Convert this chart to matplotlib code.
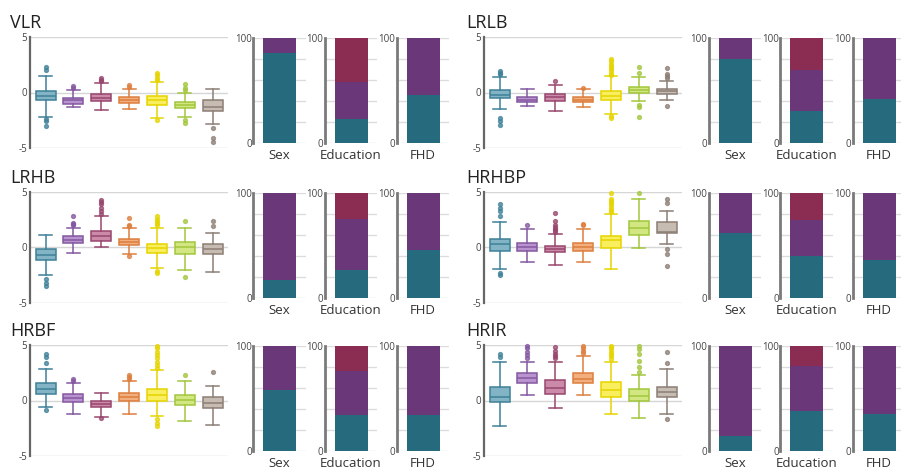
import matplotlib

matplotlib.use("Agg")
import matplotlib.pyplot as plt

plt.rcParams.update({"font.family": ["Open Sans", "DejaVu Sans"]})

W, H = 901, 471

PANELS = ["VLR", "LRLB", "LRHB", "HRHBP", "HRBF", "HRIR"]
GROUPS = ["Sex", "Education", "FHD"]

# box statistics, 7 boxes per panel
MEDIANS = {
    "VLR":   [-0.36, -0.72, -0.50, -0.65, -0.72, -1.10, -1.27],
    "LRLB":  [-0.20, -0.65, -0.45, -0.65, -0.30, 0.24, 0.15],
    "LRHB":  [-0.66, 0.72, 1.00, 0.54, -0.06, 0.00, -0.15],
    "HRHBP": [0.36, 0.06, -0.15, 0.03, 0.66, 1.80, 1.44],
    "HRBF":  [1.04, 0.27, -0.30, 0.36, 0.50, 0.06, -0.24],
    "HRIR":  [0.36, 2.00, 1.13, 1.93, 0.95, 0.45, 0.74],
}
Q1 = {
    "VLR":   [-0.72, -1.00, -0.80, -0.95, -1.15, -1.40, -1.70],
    "LRLB":  [-0.53, -0.90, -0.77, -0.90, -0.65, -0.06, -0.12],
    "LRHB":  [-1.10, 0.40, 0.60, 0.24, -0.50, -0.63, -0.63],
    "HRHBP": [-0.36, -0.30, -0.45, -0.33, -0.06, 1.14, 1.35],
    "HRBF":  [0.62, -0.10, -0.60, -0.03, 0.00, -0.42, -0.65],
    "HRIR":  [-0.15, 1.54, 0.60, 1.54, 0.36, 0.00, 0.30],
}
Q3 = {
    "VLR":   [0.18, -0.50, -0.18, -0.45, -0.36, -0.85, -0.72],
    "LRLB":  [0.24, -0.42, -0.15, -0.42, 0.18, 0.53, 0.36],
    "LRHB":  [-0.18, 1.00, 1.50, 0.80, 0.36, 0.54, 0.30],
    "HRHBP": [0.78, 0.42, 0.18, 0.42, 1.08, 2.40, 2.34],
    "HRBF":  [1.54, 0.60, 0.00, 0.65, 1.00, 0.47, 0.30],
    "HRIR":  [1.25, 2.52, 1.84, 2.52, 1.63, 1.04, 1.25],
}
WHISLO = {
    "VLR":   [-2.20, -1.30, -1.60, -1.45, -2.30, -2.20, -2.80],
    "LRLB":  [-1.48, -1.25, -1.63, -1.30, -1.90, -0.80, -0.65],
    "LRHB":  [-2.50, -0.50, 0.03, -0.63, -1.86, -2.04, -2.20],
    "HRHBP": [-1.90, -1.29, -1.56, -1.35, -1.95, -0.06, 0.36],
    "HRBF":  [-0.60, -1.20, -1.50, -1.20, -1.42, -1.87, -2.17],
    "HRIR":  [-2.30, 0.50, -0.65, 0.50, -1.25, -1.54, -1.25],
}
WHISHI = {
    "VLR":   [1.50, 0.25, 0.85, 0.33, 0.93, -0.06, 0.30],
    "LRLB":  [1.37, 0.33, 0.68, 0.30, 1.48, 1.37, 1.00],
    "LRHB":  [1.14, 1.80, 2.80, 1.75, 1.80, 1.80, 1.30],
    "HRHBP": [2.30, 1.68, 1.26, 1.65, 3.00, 4.34, 3.30],
    "HRBF":  [2.85, 1.57, 0.70, 1.72, 2.73, 1.75, 1.30],
    "HRIR":  [3.50, 3.50, 3.50, 4.00, 3.50, 2.30, 2.80],
}
FLIERS = {
    "VLR": [[2.0, 2.3, -2.4, -2.6, -3.05], [0.45, 0.6], [1.05, 1.15, 1.3],
            [0.5, 0.65], [1.1, 1.3, 1.55, 1.8, -2.45],
            [0.2, 0.45, 0.8, -2.45, -2.75], [-3.2, -4.1, -4.5]],
    "LRLB": [[1.65, 1.8, 1.95, -2.3, -2.6, -2.9], [], [1.0], [0.4],
             [1.6, 1.8, 2.0, 2.2, 2.4, 2.6, 2.8, 3.0, -2.1, -2.3],
             [1.8, 2.3, -1.1, -1.3, -2.2], [1.3, 1.5, 1.7, 2.2, -1.2]],
    "LRHB": [[-2.8, -3.2, -3.5], [2.0, 2.1, 2.2, 2.8],
             [3.0, 3.3, 3.6, 3.9, 4.1, 4.3], [1.9, 2.0, 2.7, -0.8],
             [2.0, 2.2, 2.4, 2.6, 2.8, -2.1, -2.3], [2.4, -2.7], [1.95, 2.35]],
    "HRHBP": [[2.8, 3.3, 3.6, 3.9, -2.3, -2.5], [2.0],
              [1.4, 1.55, 1.7, 1.85, 2.0, 2.4, 3.1], [2.0, 2.1],
              [3.2, 3.4, 3.6, 3.8, 4.0, 4.2, 4.4, 4.9], [4.9],
              [4.0, 4.4, -0.1, -0.6, -1.7]],
    "HRBF": [[3.4, 3.9, 4.2, -0.9], [1.8, 1.9], [-1.6], [1.9, 2.1, 2.3],
             [2.9, 3.2, 3.5, 3.8, 4.1, 4.4, 4.7, 4.95, -1.7, -2.0, -2.3],
             [2.3], [2.6]],
    "HRIR": [[3.9, 4.2], [3.8, 4.1, 4.4, 4.7, 4.95], [3.8, 4.0, 4.2, 4.5, 4.8],
             [4.3, 4.5, 4.7, 4.9], [3.7, 4.0, 4.2, 4.4, 4.6, 4.8, 4.95],
             [2.6, 3.0, 3.6, 4.2, 4.6, 4.95], [3.4, 4.4, -1.7]],
}

# stacked percentages per group: [bottom, middle, top]
STACKS = {
    "VLR":   {"Sex": [86, 14], "Education": [23, 35, 42], "FHD": [46, 54]},
    "LRLB":  {"Sex": [80, 20], "Education": [30, 40, 30], "FHD": [42, 58]},
    "LRHB":  {"Sex": [17, 83], "Education": [27, 48, 25], "FHD": [46, 54]},
    "HRHBP": {"Sex": [62, 38], "Education": [40, 34, 26], "FHD": [36, 64]},
    "HRBF":  {"Sex": [58, 42], "Education": [34, 42, 24], "FHD": [34, 66]},
    "HRIR":  {"Sex": [14, 86], "Education": [38, 43, 19], "FHD": [35, 65]},
}

BOX_EDGE = ["#3f8098", "#8457a0", "#98466e", "#dd7f3e", "#e6d400", "#a3c63c", "#8c7f75"]
BOX_FILL = ["#82b4c6", "#b993cf", "#cc8aa9", "#f2ae7c", "#f8ee5e", "#d2e781", "#c7bcb2"]
STACK_COLOURS = ["#256b7d", "#6a3878", "#8b2c52"]


def rect(x, y, w, h):
    return [x / W, 1 - (y + h) / H, w / W, h / H]


fig = plt.figure(figsize=(W / 100, H / 100), dpi=100)

row_top = [37, 192, 345]
bar_top = [38, 193, 346]
col_left = [30, 484]
title_x = [10, 466]
bar_centres = [[279.5, 351, 423], [735, 806.5, 879]]

for i, name in enumerate(PANELS):
    r, c = divmod(i, 2)

    # --- boxplots
    ax = fig.add_axes(rect(col_left[c], row_top[r], 198, 111))
    stats = []
    for k in range(7):
        stats.append({
            "med": MEDIANS[name][k], "q1": Q1[name][k], "q3": Q3[name][k],
            "whislo": WHISLO[name][k], "whishi": WHISHI[name][k],
            "fliers": FLIERS[name][k],
        })
    art = ax.bxp(stats, positions=range(1, 8), widths=0.72, capwidths=0.46,
                 patch_artist=True, manage_ticks=False)
    for k in range(7):
        e = BOX_EDGE[k]
        art["boxes"][k].set(facecolor=BOX_FILL[k], edgecolor=e, linewidth=1.1)
        art["medians"][k].set(color=e, linewidth=1.1)
        for ln in art["whiskers"][2 * k:2 * k + 2] + art["caps"][2 * k:2 * k + 2]:
            ln.set(color=e, linewidth=1.1)
        art["fliers"][k].set(marker="o", markersize=2.8, markerfacecolor=e,
                             markeredgecolor=e, alpha=0.75, clip_on=False)
    ax.set_xlim(0.44, 7.55)
    ax.set_ylim(-5, 5)
    ax.set_yticks([-5, 0, 5], ["-5", "0", "5"])
    ax.set_xticks([])
    ax.tick_params(axis="y", length=0, labelsize=7, colors="#444444", pad=2)
    ax.yaxis.grid(True, color="#d6d6d6", linewidth=1)
    ax.set_axisbelow(True)
    for s in ("top", "right", "bottom"):
        ax.spines[s].set_visible(False)
    ax.spines["left"].set(color="#666666", linewidth=1.6)
    fig.text(title_x[c] / W, 1 - (row_top[r] - 9) / H, name, fontsize=13,
             color="#222222", va="baseline", ha="left")

    # --- stacked percentage bars
    for g, group in enumerate(GROUPS):
        cx = bar_centres[c][g]
        bax = fig.add_axes(rect(cx - 26.4, bar_top[r], 52.8, 105))
        bottom = 0
        for j, v in enumerate(STACKS[name][group]):
            bax.bar(0, v, width=1, bottom=bottom, color=STACK_COLOURS[j], linewidth=0)
            bottom += v
        bax.set_xlim(-0.8, 0.8)
        bax.set_ylim(0, 100)
        bax.set_yticks([0, 20, 40, 60, 80, 100], ["0", "", "", "", "", "100"])
        bax.set_xticks([0], [group])
        bax.tick_params(axis="y", length=0, labelsize=7, colors="#444444", pad=1)
        bax.tick_params(axis="x", length=0, labelsize=9.5, colors="#333333", pad=4)
        bax.yaxis.grid(True, color="#dcdcdc", linewidth=1)
        bax.set_axisbelow(True)
        for s in ("top", "right", "bottom"):
            bax.spines[s].set_visible(False)
        bax.spines["left"].set(color="#7a7a7a", linewidth=2)

fig.savefig("out.png", dpi=100)
